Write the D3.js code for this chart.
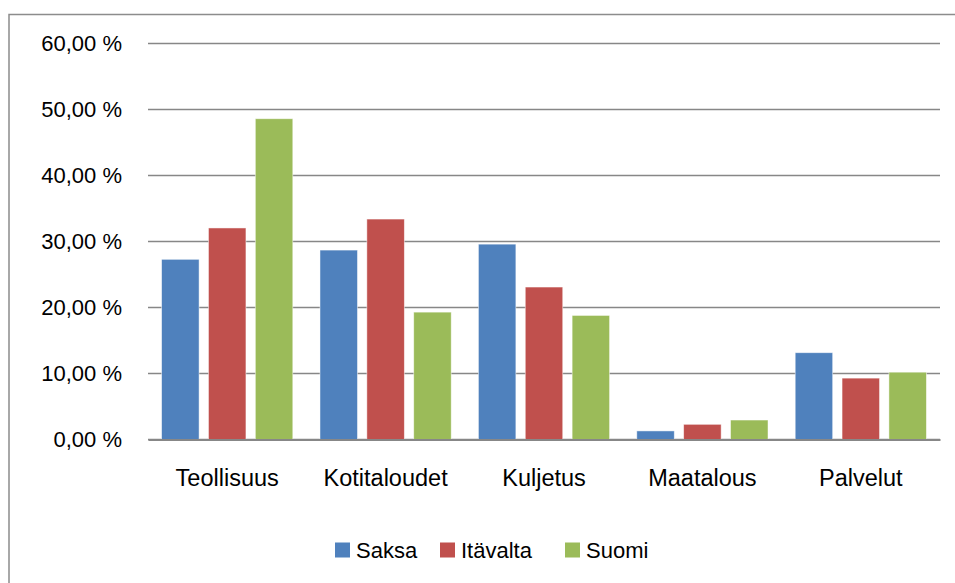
<!DOCTYPE html>
<html><head><meta charset="utf-8">
<script src="https://cdn.jsdelivr.net/npm/d3@7"></script>
<style>body{margin:0;background:#fff}svg{display:block}text{font-family:"Liberation Sans",Arial,sans-serif;fill:#000}</style>
</head><body>
<script>
const categories = ["Teollisuus","Kotitaloudet","Kuljetus","Maatalous","Palvelut"];
const seriesNames = ["Saksa","Itävalta","Suomi"];
const saksa = [27.3, 28.7, 29.6, 1.3, 13.15];
const itavalta = [32.05, 33.4, 23.1, 2.3, 9.3];
const suomi = [48.6, 19.3, 18.8, 2.95, 10.2];
const yTicks = [0,10,20,30,40,50,60];
const colors = ["#4F81BD","#C0504D","#9BBB59"];
const seriesValues = [saksa, itavalta, suomi];

const W = 955, H = 583;
const svg = d3.select("body").append("svg").attr("width",W).attr("height",H);
svg.append("rect").attr("x",9).attr("y",14.5).attr("width",960).attr("height",600)
  .attr("fill","none").attr("stroke","#8c8c8c").attr("stroke-width",1.5);

const x0 = d3.scaleBand().domain(categories).range([148,940]).paddingInner(0).paddingOuter(0);
const x1 = d3.scaleBand().domain(seriesNames).range([0,x0.bandwidth()]).paddingInner(0.2).paddingOuter(0.29);
const y = d3.scaleLinear().domain([0,60]).range([439.5,43.5]);

const fmt = v => d3.format(".2f")(v).replace(".",",") + " %";
const yAxis = d3.axisLeft(y).tickValues(yTicks).tickFormat(fmt).tickSize(0).tickPadding(26);
const gy = svg.append("g").attr("transform","translate(148,0)").call(yAxis);
gy.select(".domain").remove();
gy.selectAll("text").attr("font-size",22).attr("font-family","Liberation Sans, Arial, sans-serif").attr("fill","#000");

svg.append("g").selectAll("line").data(yTicks).join("line")
  .attr("x1",148).attr("x2",940).attr("y1",d=>y(d)).attr("y2",d=>y(d))
  .attr("stroke","#878787").attr("stroke-width",1.5);

const g = svg.append("g");
categories.forEach((c,i)=>{
  seriesNames.forEach((s,j)=>{
    const v = seriesValues[j][i];
    g.append("rect").attr("x",x0(c)+x1(s)).attr("width",x1.bandwidth())
      .attr("y",y(v)).attr("height",y(0)-y(v)).attr("fill",colors[j])
      .attr("stroke","rgba(255,255,255,0.6)").attr("stroke-width",0.8);
  });
});

const xAxis = d3.axisBottom(x0).tickSize(0).tickPadding(30);
const gx = svg.append("g").attr("transform","translate(0,439.5)").call(xAxis);
gx.select(".domain").attr("stroke","#878787").attr("stroke-width",1.8);
gx.selectAll("text").attr("font-size",23.5).attr("font-family","Liberation Sans, Arial, sans-serif").attr("fill","#000");

const legX = [335,440,565];
const leg = svg.append("g");
seriesNames.forEach((s,j)=>{
  leg.append("rect").attr("x",legX[j]).attr("y",542.5).attr("width",15).attr("height",15).attr("fill",colors[j]);
  leg.append("text").attr("x",legX[j]+21).attr("y",557.5).attr("font-size",22).text(s);
});
</script>
</body></html>
